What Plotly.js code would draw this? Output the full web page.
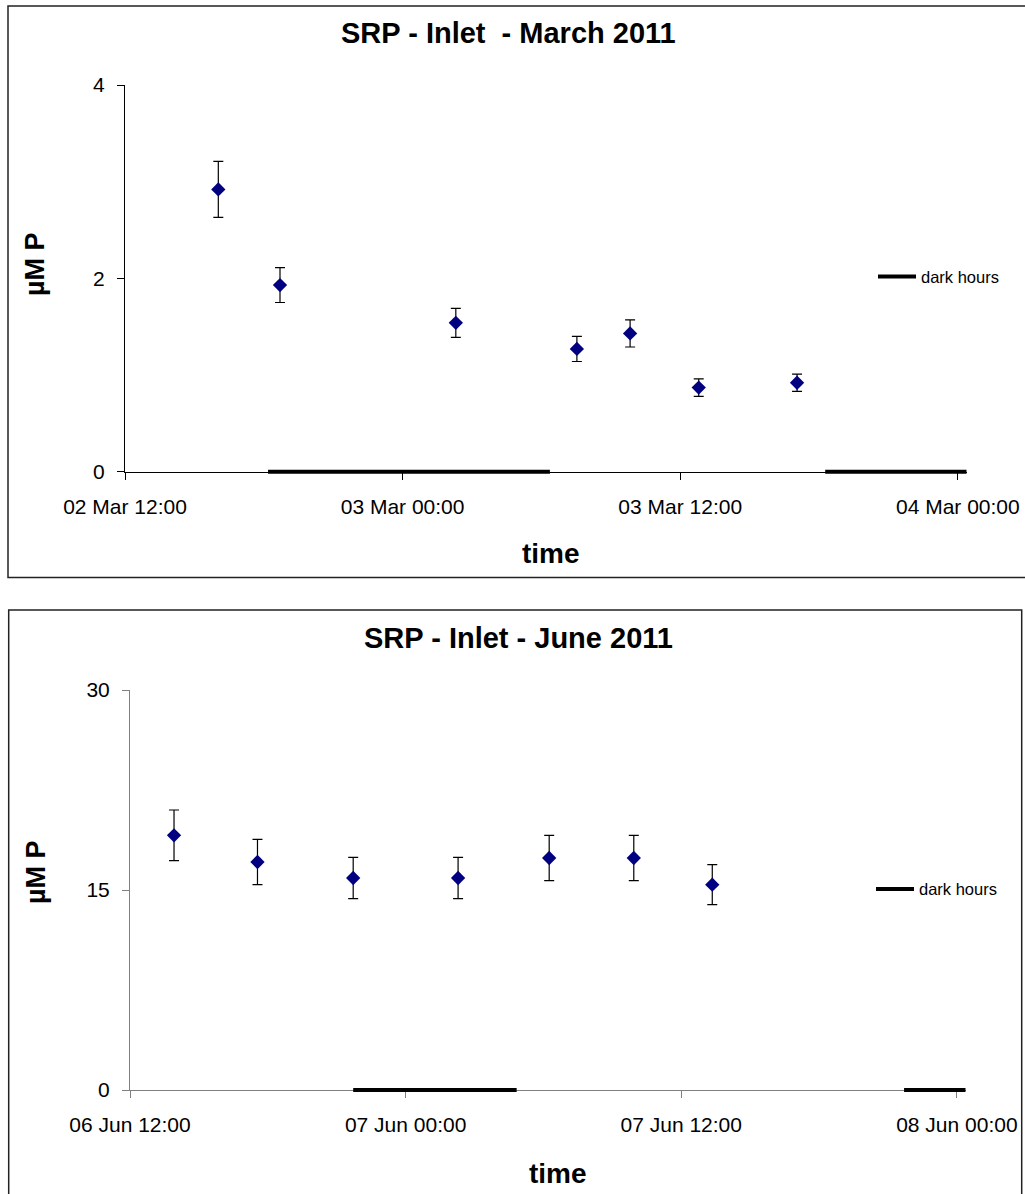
<!DOCTYPE html>
<html>
<head>
<meta charset="utf-8">
<script src="https://cdn.plot.ly/plotly-3.0.1.min.js"></script>
<style>html,body{margin:0;padding:0;background:#fff;}#chart{width:1025px;height:1194px;}</style>
</head>
<body>
<div id="chart"></div>
<script>
// ---- March 2011 ----
const marchTimes = ['2011-03-02 16:02','2011-03-02 18:42','2011-03-03 02:18','2011-03-03 07:32','2011-03-03 09:50','2011-03-03 12:48','2011-03-03 17:03'];
const marchSRP   = [2.92, 1.93, 1.54, 1.27, 1.43, 0.87, 0.92];
const marchErr   = [0.29, 0.18, 0.15, 0.13, 0.14, 0.09, 0.09];
const marchDarkX = ['2011-03-02 18:11','2011-03-03 06:22', null, '2011-03-03 18:16','2011-03-04 00:23'];
const marchDarkY = [0, 0, null, 0, 0];
const marchRange = ['2011-03-02 12:00','2011-03-04 00:23'];

// ---- June 2011 ----
const juneTimes = ['2011-06-06 13:55','2011-06-06 17:33','2011-06-06 21:43','2011-06-07 02:17','2011-06-07 06:15','2011-06-07 09:56','2011-06-07 13:21'];
const juneSRP   = [19.1, 17.1, 15.9, 15.9, 17.4, 17.4, 15.4];
const juneErr   = [1.9, 1.7, 1.55, 1.55, 1.7, 1.7, 1.5];
const juneDarkX = ['2011-06-06 21:43','2011-06-07 04:50', null, '2011-06-07 21:42','2011-06-08 00:23'];
const juneDarkY = [0, 0, null, 0, 0];
const juneRange = ['2011-06-06 12:00','2011-06-08 00:23'];

const titles = ['SRP - Inlet \u00a0- March 2011', 'SRP - Inlet - June 2011'];
const xTitle = 'time';
const yTitle = 'µM P';
const legendName = 'dark hours';

const W = 1025, H = 1194;
const px = v => v / W;
const py = v => 1 - v / H;
const FONT = 'Arial, "Liberation Sans", sans-serif';

const traces = [
  {x: marchTimes, y: marchSRP, type:'scatter', mode:'markers', xaxis:'x', yaxis:'y', showlegend:false,
   marker:{symbol:'diamond', size:11, color:'#000080'},
   error_y:{type:'data', array: marchErr, visible:true, color:'#000', thickness:1.2, width:5}},
  {x: marchDarkX, y: marchDarkY, type:'scatter', mode:'lines', xaxis:'x3', yaxis:'y3', name: legendName,
   line:{color:'#000', width:4}, legend:'legend', connectgaps:false},
  {x: juneTimes, y: juneSRP, type:'scatter', mode:'markers', xaxis:'x2', yaxis:'y2', showlegend:false,
   marker:{symbol:'diamond', size:11, color:'#000080'},
   error_y:{type:'data', array: juneErr, visible:true, color:'#000', thickness:1.2, width:5}},
  {x: juneDarkX, y: juneDarkY, type:'scatter', mode:'lines', xaxis:'x4', yaxis:'y4', name: legendName,
   line:{color:'#000', width:4}, legend:'legend2', connectgaps:false}
];

const H12 = 12*3600*1000;
function xAx(range, tick0, domain, anchor, col){
  return {type:'date', range: range, domain: domain, anchor: anchor, tick0: tick0, dtick: H12,
    tickformat:'%d %b %H:%M', showgrid:false, zeroline:false, showline:true, linecolor:col, linewidth:1,
    ticks:'outside', ticklen:7, tickcolor:col, tickfont:{family:FONT, size:21, color:'#000'},
    ticklabelstandoff: 9, fixedrange:true};
}
function yAx(range, dtick, domain, anchor, col){
  return {range: range, dtick: dtick, domain: domain, anchor: anchor, showgrid:false, zeroline:false,
    showline:true, linecolor:col, linewidth:1, ticks:'outside', ticklen:7, tickcolor:col,
    tickfont:{family:FONT, size:21, color:'#000'}, ticklabelstandoff: 8, fixedrange:true};
}
// hidden helper axes: same time scale, a thin band centred on the y=0 axis line so the thick
// dark-hours line is not clipped by the plot area
function hx(range, domain, anchor){
  return {type:'date', range: range, domain: domain, anchor: anchor, visible:false, fixedrange:true};
}
function hy(centre, anchor){
  return {range:[-1,1], domain:[py(centre+10), py(centre-10)], anchor: anchor, visible:false, fixedrange:true};
}

const layout = {
  width: W, height: H, margin:{l:0, r:0, t:0, b:0},
  paper_bgcolor:'#fff', plot_bgcolor:'rgba(0,0,0,0)',
  font:{family:FONT, color:'#000'},
  xaxis: xAx(marchRange, '2011-03-02 12:00', [px(125), px(966.7)], 'y', '#000'),
  yaxis: yAx([0,4], 2, [py(471.7), py(85)], 'x', '#000'),
  xaxis2: xAx(juneRange, '2011-06-06 12:00', [px(130), px(965.7)], 'y2', '#808080'),
  yaxis2: yAx([0,30], 15, [py(1090), py(690)], 'x2', '#808080'),
  xaxis3: hx(marchRange, [px(125), px(966.7)], 'y3'),
  yaxis3: hy(471.7, 'x3'),
  xaxis4: hx(juneRange, [px(130), px(965.7)], 'y4'),
  yaxis4: hy(1090, 'x4'),
  legend: {x: px(873), xanchor:'left', y: py(276.7), yanchor:'middle', font:{family:FONT, size:16.5},
    bgcolor:'rgba(0,0,0,0)', borderwidth:0, itemwidth:38},
  legend2: {x: px(871), xanchor:'left', y: py(889.3), yanchor:'middle', font:{family:FONT, size:16.5},
    bgcolor:'rgba(0,0,0,0)', borderwidth:0, itemwidth:38},
  shapes: [
    {type:'rect', xref:'paper', yref:'paper', x0: px(8), x1: 1.01, y0: py(577.5), y1: py(6),
     line:{color:'#222', width:1.5}, fillcolor:'rgba(0,0,0,0)', layer:'below'},
    {type:'rect', xref:'paper', yref:'paper', x0: px(8.7), x1: px(1021.7), y0: -0.01, y1: py(610),
     line:{color:'#222', width:1.5}, fillcolor:'rgba(0,0,0,0)', layer:'below'}
  ],
  annotations: [
    {text: titles[0], xref:'paper', yref:'paper', x: px(508), y: py(33), xanchor:'center', yanchor:'middle',
     showarrow:false, font:{family:FONT, size:29, weight:'bold'}},
    {text: titles[1], xref:'paper', yref:'paper', x: px(518), y: py(638), xanchor:'center', yanchor:'middle',
     showarrow:false, font:{family:FONT, size:29, weight:'bold'}},
    {text: xTitle, xref:'paper', yref:'paper', x: px(551), y: py(553), xanchor:'center', yanchor:'middle',
     showarrow:false, font:{family:FONT, size:28, weight:'bold'}},
    {text: xTitle, xref:'paper', yref:'paper', x: px(558), y: py(1173), xanchor:'center', yanchor:'middle',
     showarrow:false, font:{family:FONT, size:28, weight:'bold'}},
    {text: yTitle, xref:'paper', yref:'paper', x: px(35), y: py(264), xanchor:'center', yanchor:'middle',
     textangle:-90, showarrow:false, font:{family:FONT, size:27, weight:'bold'}},
    {text: yTitle, xref:'paper', yref:'paper', x: px(36), y: py(872), xanchor:'center', yanchor:'middle',
     textangle:-90, showarrow:false, font:{family:FONT, size:27, weight:'bold'}}
  ]
};

Plotly.newPlot('chart', traces, layout, {staticPlot:true, displayModeBar:false});
</script>
</body>
</html>
